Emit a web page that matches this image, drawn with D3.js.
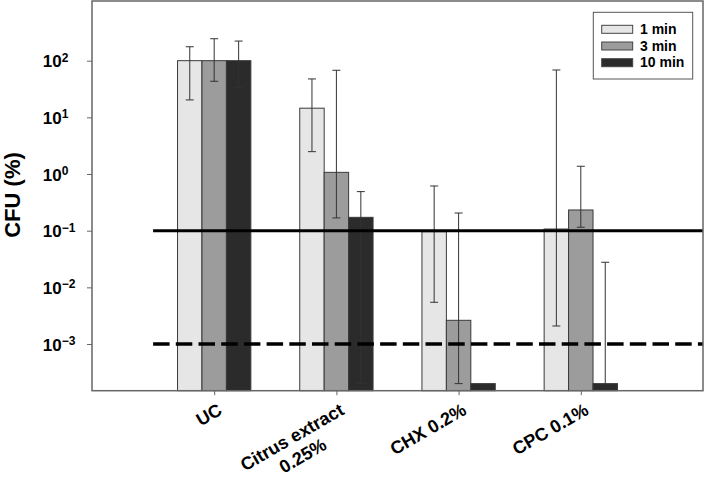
<!DOCTYPE html>
<html>
<head>
<meta charset="utf-8">
<script src="https://cdn.jsdelivr.net/npm/d3@7"></script>
<style>
  html, body { margin: 0; padding: 0; background: #fff; }
  svg { display: block; font-family: "Liberation Sans", Arial, Helvetica, sans-serif; }
</style>
</head>
<body>
<svg id="chart" width="709" height="478"></svg>
<script>
// ---- data ----
const categories = [["UC"], ["Citrus extract", "0.25%"], ["CHX 0.2%"], ["CPC 0.1%"]];
const seriesNames = ["1 min", "3 min", "10 min"];
const seriesColors = ["#e6e6e6", "#9c9c9c", "#2b2b2b"];
const values1min = [100, 14.5, 0.096, 0.107];
const values3min = [100, 1.07, 0.00262, 0.232];
const values10min = [100, 0.172, 0.0002, 0.0002];
const errHigh1min = [176, 47.6, 0.615, 68.5];
const errLow1min = [20.3, 2.48, 0.00545, 0.00208];
const errHigh3min = [244, 67.7, 0.205, 1.37];
const errLow3min = [43.3, 0.168, 0.0002, 0.115];
const errHigh10min = [222, 0.489, null, 0.0277];
const errLow10min = [33.4, 0.0002, null, null];
const yTickExponents = [2, 1, 0, -1, -2, -3];
const refSolid = 0.1;
const refDashed = 0.001;
const yTitle = "CFU (%)";

const seriesValues = [values1min, values3min, values10min];
const seriesHigh = [errHigh1min, errHigh3min, errHigh10min];
const seriesLow = [errLow1min, errLow3min, errLow10min];

// ---- layout ----
const L = 92, R = 703, T = 1, B = 390.7;
const svg = d3.select("#chart");

const x = d3.scaleLinear().domain([-1, 4]).range([L, R]);
const y = d3.scaleLog().domain([1.5e-4, 1130]).range([B, T]);
const barW = 0.2;

// bars
const rows = [];
categories.forEach((c, i) => {
  seriesNames.forEach((s, j) => {
    rows.push({i, j, v: seriesValues[j][i], hi: seriesHigh[j][i], lo: seriesLow[j][i]});
  });
});

const gBars = svg.append("g");
gBars.selectAll("rect").data(rows).join("rect")
  .attr("x", d => x(d.i + (d.j - 1) * barW - barW / 2))
  .attr("width", d => x(barW) - x(0))
  .attr("y", d => y(d.v))
  .attr("height", d => B - y(d.v))
  .attr("fill", d => seriesColors[d.j])
  .attr("stroke", "#3a3a3a")
  .attr("stroke-width", 1);

// error bars
const gErr = svg.append("g").attr("stroke", "#333").attr("stroke-width", 1);
const capHalf = 4;
rows.filter(d => d.hi != null).forEach(d => {
  const cx = x(d.i + (d.j - 1) * barW);
  const yTop = y(d.hi);
  const yBot = y(d.lo != null ? d.lo : d.v);
  gErr.append("line").attr("x1", cx).attr("x2", cx).attr("y1", yTop).attr("y2", yBot);
  gErr.append("line").attr("x1", cx - capHalf).attr("x2", cx + capHalf).attr("y1", yTop).attr("y2", yTop);
  if (d.lo != null) {
    gErr.append("line").attr("x1", cx - capHalf).attr("x2", cx + capHalf).attr("y1", yBot).attr("y2", yBot);
  }
});

// reference lines
svg.append("line")
  .attr("x1", x(-0.5)).attr("x2", x(4))
  .attr("y1", y(refSolid)).attr("y2", y(refSolid))
  .attr("stroke", "#000").attr("stroke-width", 3);
svg.append("line")
  .attr("x1", x(-0.5)).attr("x2", x(4))
  .attr("y1", y(refDashed)).attr("y2", y(refDashed))
  .attr("stroke", "#000").attr("stroke-width", 3.5)
  .attr("stroke-dasharray", "16.5,6.2");

// frame
svg.append("rect")
  .attr("x", L).attr("y", T).attr("width", R - L).attr("height", B - T)
  .attr("fill", "none").attr("stroke", "#666").attr("stroke-width", 1.5);

// y axis
const yAxis = svg.append("g").attr("transform", `translate(${L},0)`)
  .call(d3.axisLeft(y).tickValues(yTickExponents.map(e => Math.pow(10, e))).tickSize(5).tickFormat(""));
yAxis.select(".domain").remove();
yAxis.selectAll(".tick line").attr("stroke", "#666").attr("stroke-width", 1);
yAxis.selectAll(".tick").each(function(v) {
  const e = Math.round(Math.log10(v));
  const t = d3.select(this).append("text")
    .attr("x", 42.7 - L).attr("y", 6)
    .attr("text-anchor", "start")
    .attr("fill", "#000")
    .attr("font-size", 17).attr("font-weight", "bold");
  t.append("tspan").text("10");
  t.append("tspan").attr("font-size", 12).attr("dy", -5.5)
    .text(e < 0 ? "\u2212" + Math.abs(e) : String(e));
});

// y title
svg.append("text")
  .attr("transform", "translate(19.5,195) rotate(-90)")
  .attr("text-anchor", "middle")
  .attr("font-size", 22).attr("font-weight", "bold")
  .text(yTitle);

// x axis
const xAxis = svg.append("g").attr("transform", `translate(0,${B})`)
  .call(d3.axisBottom(x).tickValues(categories.map((c, i) => i)).tickSize(4.5).tickFormat(""));
xAxis.select(".domain").remove();
xAxis.selectAll(".tick line").attr("stroke", "#666").attr("stroke-width", 1);

categories.forEach((lines, i) => {
  const g = svg.append("g")
    .attr("transform", `translate(${x(i) + 9},${B + 22.8}) rotate(-30)`);
  const t = g.append("text")
    .attr("font-size", 18).attr("font-weight", "bold")
    .attr("text-anchor", "middle");
  const spans = lines.map((ln, k) => t.append("tspan").text(ln));
  const w = d3.max(spans, s => s.node().getComputedTextLength());
  spans.forEach((s, k) => s.attr("x", -w / 2).attr("y", k * 21.4));
});

// legend
const lg = svg.append("g");
lg.append("rect")
  .attr("x", 593.3).attr("y", 12.3).attr("width", 99.4).attr("height", 66.7)
  .attr("fill", "#fff").attr("stroke", "#555").attr("stroke-width", 1);
seriesNames.forEach((s, j) => {
  lg.append("rect")
    .attr("x", 601.7).attr("y", 25.3 + j * 16.7).attr("width", 31).attr("height", 8)
    .attr("fill", seriesColors[j]).attr("stroke", "#444").attr("stroke-width", 1);
  lg.append("text")
    .attr("x", 640).attr("y", 34 + j * 16.7)
    .attr("font-size", 14).attr("font-weight", "bold")
    .text(s);
});
</script>
</body>
</html>
